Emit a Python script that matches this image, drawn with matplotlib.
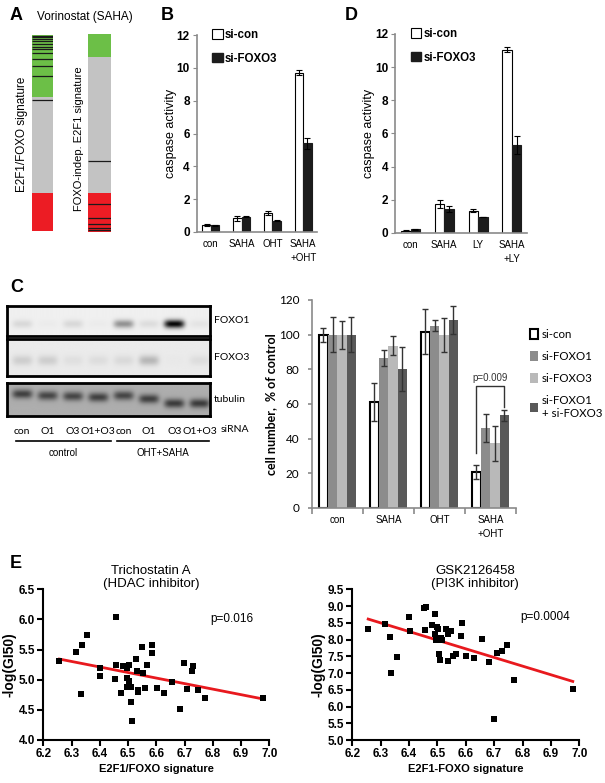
import numpy as np
import matplotlib
matplotlib.use('Agg')
import matplotlib.pyplot as plt
from matplotlib.patches import Patch
from matplotlib.ticker import FormatStrFormatter, MultipleLocator
from matplotlib.transforms import blended_transform_factory

plt.rcParams['font.family'] = ['Liberation Sans', 'DejaVu Sans']

W, H = 605, 783

# ---------------- data ----------------
# A: ranked gene list position (0 = top, 1 = bottom) of signature genes
sig1_green_end, sig1_red_start = 0.318, 0.808
sig1_hits = [0.004, 0.012, 0.022, 0.033, 0.045, 0.06, 0.072, 0.092, 0.125, 0.156, 0.21, 0.333]
sig2_green_end, sig2_red_start = 0.118, 0.806
sig2_hits = [0.641, 0.858, 0.929, 0.961, 0.98, 0.991]

# B: caspase activity, SAHA / OHT
b_groups = ['con', 'SAHA', 'OHT', 'SAHA\n+OHT']
b_sicon = [0.43, 0.83, 1.15, 9.7]
b_sicon_err = [0.04, 0.13, 0.1, 0.15]
b_foxo3 = [0.4, 0.93, 0.7, 5.4]
b_foxo3_err = [0.02, 0.03, 0.02, 0.35]

# D: caspase activity, SAHA / LY
d_groups = ['con', 'SAHA', 'LY', 'SAHA\n+LY']
d_sicon = [0.15, 1.75, 1.35, 11.05]
d_sicon_err = [0.02, 0.25, 0.07, 0.15]
d_foxo3 = [0.22, 1.45, 0.97, 5.3]
d_foxo3_err = [0.02, 0.2, 0.02, 0.55]

# C: western blot band intensities (8 lanes)
lane_labels = ['con', 'O1', 'O3', 'O1+O3', 'con', 'O1', 'O3', 'O1+O3']
foxo1_bands = [0.1, 0.02, 0.1, 0.02, 0.4, 0.08, 1.0, 0.05]
foxo3_bands = [0.25, 0.25, 0.1, 0.12, 0.15, 0.45, 0.02, 0.12]
tubulin_bands = [0.95, 0.9, 0.9, 0.95, 0.9, 0.95, 1.0, 1.0]
tubulin_shift = [0.33, 0.38, 0.4, 0.43, 0.38, 0.48, 0.62, 0.62]

# C: cell number, % of control
c_groups = ['con', 'SAHA', 'OHT', 'SAHA\n+OHT']
c_series = ['si-con', 'si-FOXO1', 'si-FOXO3', 'si-FOXO1\n+ si-FOXO3']
c_vals = [[100, 61.4, 101.8, 20.7],
          [100, 86.4, 105.2, 46],
          [100, 93.5, 99.8, 37.4],
          [100, 80, 108.3, 53.4]]
c_errs = [[4, 11, 13, 4],
          [10, 4.5, 3, 8],
          [8, 5.5, 10, 10],
          [10, 12.7, 8, 3]]

# E: scatter, Trichostatin A
tsa_x = [6.257, 6.316, 6.336, 6.356, 6.332, 6.40, 6.40, 6.458, 6.457, 6.454, 6.474,
         6.481, 6.495, 6.495, 6.495, 6.504, 6.503, 6.51, 6.51, 6.514, 6.528, 6.533,
         6.536, 6.536, 6.548, 6.552, 6.56, 6.566, 6.584, 6.586, 6.601, 6.629, 6.657,
         6.685, 6.698, 6.707, 6.729, 6.725, 6.746, 6.771, 6.979]
tsa_y = [5.31, 5.455, 5.576, 5.742, 4.763, 5.20, 5.06, 6.047, 5.239, 5.018, 4.774,
         5.228, 5.19, 5.023, 4.885, 5.239, 4.985, 4.885, 4.636, 4.321, 5.338, 5.15,
         4.83, 4.80, 5.549, 5.117, 4.868, 5.244, 5.449, 5.576, 4.868, 4.785, 4.962,
         4.52, 5.272, 4.841, 5.228, 5.15, 4.83, 4.69, 4.69]

# E: scatter, GSK2126458
gsk_x = [6.256, 6.317, 6.333, 6.336, 6.356, 6.401, 6.403, 6.453, 6.46, 6.456, 6.491,
         6.48, 6.493, 6.495, 6.5, 6.503, 6.507, 6.509, 6.511, 6.515, 6.53, 6.536,
         6.538, 6.548, 6.554, 6.564, 6.582, 6.585, 6.6, 6.629, 6.656, 6.682, 6.699,
         6.709, 6.726, 6.746, 6.771, 6.977]
gsk_y = [8.325, 8.465, 8.086, 6.991, 7.489, 8.684, 8.246, 8.952, 8.982, 8.295, 8.763,
         8.425, 8.156, 7.987, 8.385, 8.305, 7.559, 7.39, 8.056, 7.987, 8.315, 8.156,
         7.37, 8.265, 7.509, 7.559, 8.106, 8.484, 7.509, 7.459, 8.007, 7.34, 5.617,
         7.608, 7.658, 7.837, 6.792, 6.523]


def box(x0, y0, x1, y1):
    # pixel box (top-left origin) -> figure fraction rect
    return [x0 / W, 1 - y1 / H, (x1 - x0) / W, (y1 - y0) / H]


def fx(x):
    return x / W


def fy(y):
    return 1 - y / H


fig = plt.figure(figsize=(6.05, 7.83), dpi=100)

# panel letters
for letter, (lx, ly) in {'A': (16, 16), 'B': (167, 15), 'D': (351, 15),
                         'C': (17, 288), 'E': (16, 564)}.items():
    fig.text(fx(lx), fy(ly), letter, fontsize=13, fontweight='bold',
             ha='center', va='center')

# ---------------- A ----------------
GREEN, GRAY, RED = '#6cbf47', '#c3c3c3', '#ec1c24'


def signature_bar(ax, green_end, red_start, hits):
    ax.axhspan(0, green_end, color=GREEN, lw=0)
    ax.axhspan(green_end, red_start, color=GRAY, lw=0)
    ax.axhspan(red_start, 1, color=RED, lw=0)
    ax.hlines(hits, 0, 1, color='#1a1a1a', lw=0.9)
    ax.set_xlim(0, 1)
    ax.set_ylim(1, 0)
    ax.axis('off')


signature_bar(fig.add_axes(box(31.7, 35, 53.3, 230.7)), sig1_green_end, sig1_red_start, sig1_hits)
signature_bar(fig.add_axes(box(88.3, 34, 111, 231.7)), sig2_green_end, sig2_red_start, sig2_hits)
fig.text(fx(85), fy(17), 'Vorinostat (SAHA)', fontsize=8.5, ha='center', va='center')
fig.text(fx(22), fy(134), 'E2F1/FOXO signature', fontsize=8.4, rotation=90,
         ha='center', va='center')
fig.text(fx(79), fy(139), 'FOXO-indep. E2F1 signature', fontsize=8, rotation=90,
         ha='center', va='center')


# ---------------- B / D ----------------
def caspase_panel(rect, groups, con, con_err, fox, fox_err, ylab_x, leg_x):
    ax = fig.add_axes(rect)
    x = np.arange(len(groups))
    w = 0.28
    ekw = dict(lw=0.8, capsize=2, capthick=0.8, ecolor='black')
    ax.bar(x - w / 2, con, w, yerr=con_err, color='white', edgecolor='black',
           lw=0.8, error_kw=ekw)
    ax.bar(x + w / 2, fox, w, yerr=fox_err, color='#1c1c1c', edgecolor='#1c1c1c',
           lw=0.8, error_kw=ekw)
    ax.set_xlim(-0.46, 3.45)
    ax.set_ylim(0, 12)
    ax.set_yticks(range(0, 13, 2))
    ax.set_xticks(x)
    ax.set_xticklabels(groups, fontsize=7, linespacing=1.5)
    ax.tick_params(axis='x', length=0, pad=5)
    ax.tick_params(axis='y', length=3, color='#8a8a8a', labelsize=8.5, pad=2)
    for t in ax.get_yticklabels():
        t.set_fontweight('bold')
    for s in ['top', 'right']:
        ax.spines[s].set_visible(False)
    for s in ['left', 'bottom']:
        ax.spines[s].set_color('#8a8a8a')
        ax.spines[s].set_linewidth(1.2)
    ax.set_ylabel('caspase activity', fontsize=9)
    ax.yaxis.set_label_coords(ylab_x, 0.5)
    handles = [Patch(facecolor='white', edgecolor='black', lw=0.8),
               Patch(facecolor='#1c1c1c', edgecolor='#1c1c1c')]
    ax.legend(handles, ['si-con', 'si-FOXO3'], loc='upper left',
              bbox_to_anchor=(leg_x, 1.03), frameon=False, borderpad=0,
              borderaxespad=0, handlelength=0.9, handleheight=0.9,
              handletextpad=0.2, labelspacing=1.0,
              prop=dict(weight='bold', size=8.3))
    return ax


caspase_panel(box(196.7, 35, 317, 232), b_groups, b_sicon, b_sicon_err,
              b_foxo3, b_foxo3_err, -0.165, 0.13)
caspase_panel(box(395, 34, 527, 233), d_groups, d_sicon, d_sicon_err,
              d_foxo3, d_foxo3_err, -0.15, 0.12)

# ---------------- C blots ----------------
lane_x = np.arange(8) + 0.6


def blot(rect, levels, bg, dark, ycen, label):
    ax = fig.add_axes(rect)
    xs = np.linspace(0, 8, 400)
    ys = np.linspace(0, 1, 60)
    X, Y = np.meshgrid(xs, ys)
    img = np.full_like(X, bg)
    for i, lv in enumerate(levels):
        band = np.exp(-((X - lane_x[i]) / 0.4) ** 4) * np.exp(-((Y - ycen[i]) / 0.14) ** 2)
        img = img - lv * dark * band
    ax.imshow(img, cmap='gray', vmin=0, vmax=1, extent=[0, 8, 1, 0],
              aspect='auto', interpolation='bilinear')
    ax.set_xlim(0, 8)
    ax.set_ylim(1, 0)
    ax.set_xticks([])
    ax.set_yticks([])
    for s in ax.spines.values():
        s.set_linewidth(2)
    ax.text(1.02, 0.5, label, transform=ax.transAxes, fontsize=7.5,
            family=['Lato', 'DejaVu Sans'], ha='left', va='center')
    return ax


blot(box(7, 305.7, 210, 335.7), foxo1_bands, 0.94, 0.92, [0.6] * 8, 'FOXO1')
blot(box(7, 339, 210, 376), foxo3_bands, 0.92, 0.45, [0.58] * 8, 'FOXO3')
axt = blot(box(7, 383, 210, 415.7), tubulin_bands, 0.68, 0.45, tubulin_shift, 'tubulin')
axt.set_xticks(lane_x)
axt.set_xticklabels(lane_labels, fontsize=7.5, family=['Lato', 'DejaVu Sans'])
axt.tick_params(axis='x', length=0, pad=8)
tr = blended_transform_factory(axt.transData, axt.transAxes)
axt.text(9.0, -0.42, 'siRNA', transform=tr, fontsize=7.5,
         family=['Lato', 'DejaVu Sans'], ha='center', va='center')
axt.plot([0.35, 4.1], [-0.76, -0.76], color='black', lw=1.2, transform=tr, clip_on=False)
axt.plot([4.33, 7.96], [-0.76, -0.76], color='black', lw=1.2, transform=tr, clip_on=False)
axt.text(2.2, -1.13, 'control', transform=tr, fontsize=7, ha='center', va='center')
axt.text(6.15, -1.13, 'OHT+SAHA', transform=tr, fontsize=7, ha='center', va='center')

# ---------------- C bar chart ----------------
axc = fig.add_axes(box(311.7, 300, 516, 508))
xg = np.arange(len(c_groups))
bw = 0.183
c_colors = ['white', '#8c8c8c', '#b9b9b9', '#595959']
for i in range(4):
    axc.bar(xg + (i - 1.5) * bw, c_vals[i], bw, yerr=c_errs[i], color=c_colors[i],
            edgecolor='black' if i == 0 else c_colors[i], lw=1.5 if i == 0 else 0,
            label=c_series[i],
            error_kw=dict(ecolor='#333333', lw=1, capsize=2.5, capthick=1))
axc.set_xlim(-0.5, 3.5)
axc.set_ylim(0, 120)
axc.set_yticks(range(0, 121, 20))
axc.set_xticks(xg)
axc.set_xticklabels(c_groups, fontsize=7, linespacing=1.5)
axc.set_xticks(np.arange(-0.5, 4, 1), minor=True)
axc.tick_params(axis='x', which='major', length=0, pad=5)
axc.tick_params(axis='x', which='minor', length=4, color='#8a8a8a', width=1.2)
axc.tick_params(axis='y', length=3, color='#8a8a8a', width=1.2, labelsize=8.5, pad=6)
for t in axc.get_yticklabels():
    t.set_family(['Lato', 'DejaVu Sans'])
for s in ['top', 'right']:
    axc.spines[s].set_visible(False)
for s in ['left', 'bottom']:
    axc.spines[s].set_color('#8a8a8a')
    axc.spines[s].set_linewidth(1.2)
axc.set_ylabel('cell number,  % of control', fontsize=9, fontweight='bold',
               family=['Lato', 'DejaVu Sans'])
axc.yaxis.set_label_coords(-0.17, 0.5)
# significance bracket between si-con and si-FOXO1+si-FOXO3 under SAHA+OHT
bl, br = 3 - 1.5 * bw, 3 + 1.5 * bw
top = max(c_vals[3][3] + c_errs[3][3], c_vals[0][3] + c_errs[0][3]) + 14
axc.plot([bl, bl, br, br], [c_vals[0][3] + c_errs[0][3] + 7, top, top,
                            c_vals[3][3] + c_errs[3][3] + 2],
         color='#333333', lw=1)
axc.text(3, top + 2, 'p=0.009', fontsize=7, color='#333333', ha='center', va='bottom')
axc.legend(loc='upper left', bbox_to_anchor=(1.07, 0.86), frameon=False,
           borderpad=0, borderaxespad=0, handlelength=0.7, handleheight=0.9,
           handletextpad=0.3, labelspacing=0.95,
           prop=dict(family=['Lato', 'DejaVu Sans'], size=8.3))


# ---------------- E ----------------
def scatter_panel(rect, xs, ys, ylim, yticks_step, title, ptext, xlabel,
                  title_x, title_y, p_xy, ylab_x):
    ax = fig.add_axes(rect)
    ax.scatter(xs, ys, marker='s', s=20, color='black', linewidths=0, zorder=3)
    k, b = np.polyfit(xs, ys, 1)
    xl = np.array([min(xs), max(xs)])
    ax.plot(xl, k * xl + b, color='#e8191e', lw=2, zorder=2)
    ax.set_xlim(6.2, 7.0)
    ax.set_ylim(*ylim)
    ax.xaxis.set_major_locator(MultipleLocator(0.1))
    ax.yaxis.set_major_locator(MultipleLocator(yticks_step))
    ax.xaxis.set_major_formatter(FormatStrFormatter('%.1f'))
    ax.yaxis.set_major_formatter(FormatStrFormatter('%.1f'))
    for s in ['top', 'right']:
        ax.spines[s].set_visible(False)
    for s in ['left', 'bottom']:
        ax.spines[s].set_linewidth(1.5)
    ax.tick_params(length=4, width=1.5, labelsize=8.5, pad=2)
    for t in ax.get_xticklabels() + ax.get_yticklabels():
        t.set_fontweight('bold')
    fig.text(fx(title_x), fy(title_y), title, fontsize=9.5, ha='center', va='center',
             linespacing=1.05)
    fig.text(fx(p_xy[0]), fy(p_xy[1]), ptext, fontsize=8.5, ha='left', va='center')
    ax.set_xlabel(xlabel, fontsize=8, fontweight='bold', labelpad=3)
    ax.set_ylabel('-log(GI50)', fontsize=10, fontweight='bold')
    ax.yaxis.set_label_coords(ylab_x, 0.5)
    return ax


scatter_panel(box(43.3, 589.3, 269.3, 740), tsa_x, tsa_y, (4.0, 6.5), 0.5,
              'Trichostatin A\n(HDAC inhibitor)', 'p=0.016', 'E2F1/FOXO signature',
              151, 577.5, (210, 619), -0.118)
scatter_panel(box(352.3, 589.3, 579.3, 740), gsk_x, gsk_y, (5.0, 9.5), 0.5,
              'GSK2126458\n(PI3K inhibitor)', 'p=0.0004', 'E2F1-FOXO signature',
              475, 577.5, (520, 617), -0.118)

fig.savefig('out.png', dpi=100)
